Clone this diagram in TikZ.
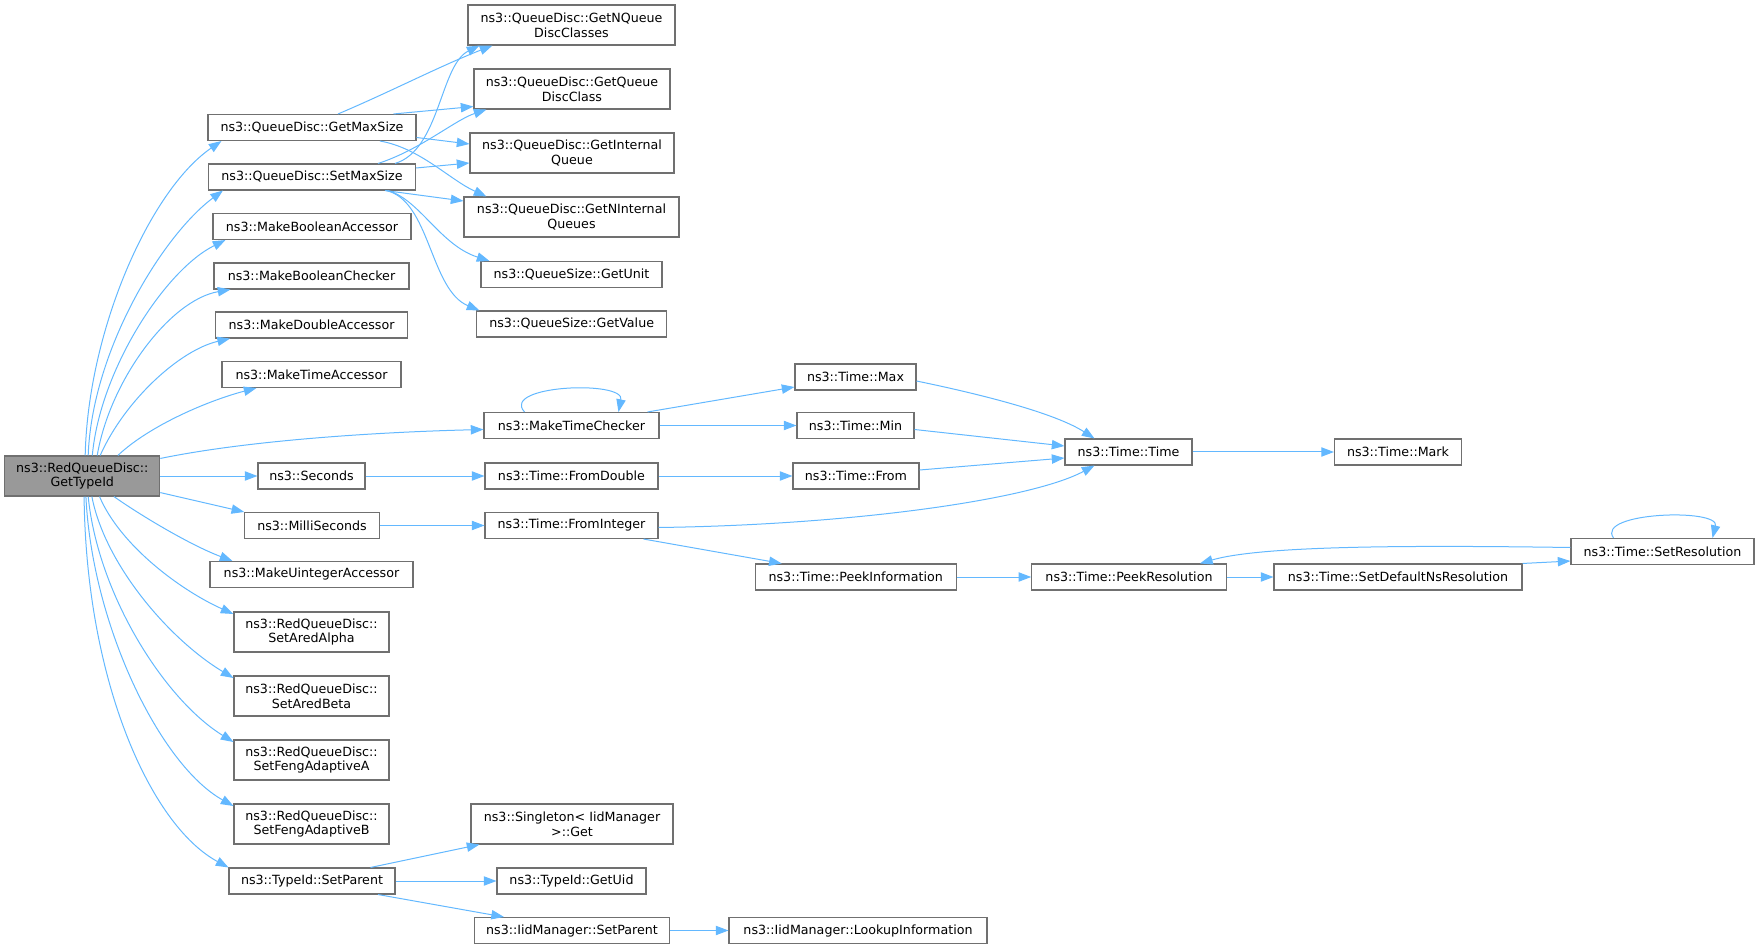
\documentclass[tikz,border=0pt]{standalone}
\usepackage{fontspec}
\setmainfont{DejaVu Sans}
\usetikzlibrary{arrows.meta,calc}
\definecolor{edgeblue}{HTML}{63B8FF}
\definecolor{boxline}{HTML}{707070}
\definecolor{rootfill}{HTML}{999999}

\begin{document}
\begin{tikzpicture}[x=0.75pt,y=-0.75pt]
    \tikzstyle{fn}=[draw=boxline, fill=white, line width=0.8pt, inner sep=0pt,
                    align=center, font=\fontsize{9.5}{11}\selectfont, minimum height=19.5pt]
    \tikzstyle{fntwo}=[fn, minimum height=30pt]
    \tikzstyle{call}=[draw=edgeblue, line width=0.75pt,
                      -{Triangle[length=9.5pt,width=7pt]}]
    \tikzset{wd/.style={minimum width=#1*0.75pt}}
    \useasboundingbox (0,0) rectangle (1760,948);

    % Draw the function boxes
    \node [fntwo,fill=rootfill,wd=155] (root) at (82.3,476) {ns3::RedQueueDisc::\\GetTypeId};

    \node [fn,wd=208] (gms)  at (312,127.5) {ns3::QueueDisc::GetMaxSize};
    \node [fn,wd=207] (sms)  at (312,177)   {ns3::QueueDisc::SetMaxSize};
    \node [fn,wd=198] (mba)  at (312,226.5) {ns3::MakeBooleanAccessor};
    \node [fn,wd=195] (mbc)  at (311.5,276) {ns3::MakeBooleanChecker};
    \node [fn,wd=192] (mda)  at (311.6,325) {ns3::MakeDoubleAccessor};
    \node [fn,wd=179] (mta)  at (311.5,374.5) {ns3::MakeTimeAccessor};
    \node [fn,wd=107] (sec)  at (311.5,476) {ns3::Seconds};
    \node [fn,wd=134.5] (msec) at (312,525.5) {ns3::MilliSeconds};
    \node [fn,wd=203] (mua)  at (311.5,574.5) {ns3::MakeUintegerAccessor};
    \node [fntwo,wd=155] (alpha) at (311.5,632) {ns3::RedQueueDisc::\\SetAredAlpha};
    \node [fntwo,wd=155] (beta)  at (311.5,696) {ns3::RedQueueDisc::\\SetAredBeta};
    \node [fntwo,wd=155] (fenga) at (311.5,760) {ns3::RedQueueDisc::\\SetFengAdaptiveA};
    \node [fntwo,wd=155] (fengb) at (311.5,824) {ns3::RedQueueDisc::\\SetFengAdaptiveB};
    \node [fn,wd=166] (tsp)  at (312,881)   {ns3::TypeId::SetParent};

    \node [fntwo,wd=207] (gnq)  at (571.5,25) {ns3::QueueDisc::GetNQueue\\DiscClasses};
    \node [fntwo,wd=196] (gqdc) at (572,89)   {ns3::QueueDisc::GetQueue\\DiscClass};
    \node [fntwo,wd=204] (giq)  at (572,153)  {ns3::QueueDisc::GetInternal\\Queue};
    \node [fntwo,wd=215] (gniq) at (571.5,217) {ns3::QueueDisc::GetNInternal\\Queues};
    \node [fn,wd=181] (unit)  at (571.5,274.5) {ns3::QueueSize::GetUnit};
    \node [fn,wd=189.5] (value) at (571.7,324) {ns3::QueueSize::GetValue};
    \node [fn,wd=175] (mtc)   at (571.5,425.5) {ns3::MakeTimeChecker};
    \node [fn,wd=173] (fdbl)  at (571.5,476) {ns3::Time::FromDouble};
    \node [fn,wd=173] (fint)  at (571.5,525.5) {ns3::Time::FromInteger};
    \node [fntwo,wd=202] (sget) at (572,824) {ns3::Singleton< IidManager\\>::Get};
    \node [fn,wd=149] (uid)   at (571.5,881) {ns3::TypeId::GetUid};
    \node [fn,wd=194.5] (isp) at (572,930.5) {ns3::IidManager::SetParent};

    \node [fn,wd=121] (tmax)  at (855.5,377) {ns3::Time::Max};
    \node [fn,wd=117] (tmin)  at (855.5,425.5) {ns3::Time::Min};
    \node [fn,wd=126] (tfrom) at (856,476) {ns3::Time::From};
    \node [fn,wd=201] (pinfo) at (855.7,577) {ns3::Time::PeekInformation};
    \node [fn,wd=258] (lookup) at (858,930.5) {ns3::IidManager::LookupInformation};

    \node [fn,wd=127] (ttime)  at (1128.5,452) {ns3::Time::Time};
    \node [fn,wd=194.5] (presol) at (1129,577) {ns3::Time::PeekResolution};
    \node [fn,wd=127] (mark)   at (1398,452) {ns3::Time::Mark};
    \node [fn,wd=248] (sdns)   at (1398,577) {ns3::Time::SetDefaultNsResolution};
    \node [fn,wd=183] (sres)   at (1662.5,551.5) {ns3::Time::SetResolution};

    % Draw calls made by GetTypeId
    \draw[call] (root.82) .. controls (88,330) and (150,190) .. ($(gms.south west)+(14,0)$);
    \draw[call] (root.74) .. controls (92,350) and (163,235) .. ($(sms.south west)+(15,0)$);
    \draw[call] (root.64) .. controls (100,370) and (165,270) .. ($(mba.south west)+(13,0)$);
    \draw[call] (root.54) .. controls (110,380) and (170,300) .. ($(mbc.south west)+(17,0)$);
    \draw[call] (root.49) .. controls (125,400) and (180,350) .. ($(mda.south west)+(15,0)$);
    \draw[call] (root.30) .. controls (150,425) and (210,400) .. ($(mta.south west)+(35,0)$);
    \draw[call] ($(root.north east)+(0,3)$) .. controls (250,440) and (380,432) .. ($(mtc.west)+(0,4)$);
    \draw[call] (root) -- (sec);
    \draw[call] (root.-12) -- (msec.north west);
    \draw[call] (root.-33) .. controls (140,515) and (190,545) .. ($(mua.north west)+(23,0)$);
    \draw[call] (root.-50) .. controls (120,545) and (180,590) .. ($(alpha.west)+(0,-18)$);
    \draw[call] (root.-65) .. controls (105,565) and (170,640) .. ($(beta.west)+(0,-18)$);
    \draw[call] (root.-74) .. controls (98,595) and (165,700) .. ($(fenga.west)+(0,-18)$);
    \draw[call] (root.-80) .. controls (92,625) and (160,765) .. ($(fengb.west)+(0,-18)$);
    \draw[call] (root.-85) .. controls (86,680) and (150,825) .. (tsp.north west);

    % Draw calls of the queue disc size functions
    \draw[call] ($(gms.north)+(26,0)$) .. controls (390,92) and (440,66) .. ($(gnq.south west)+(25,0)$);
    \draw[call] ($(gms.north east)+(-23,0)$) -- ($(gqdc.south west)+(0,-3)$);
    \draw[call] ($(gms.east)+(0,10)$) -- ($(giq.west)+(0,-9)$);
    \draw[call] ($(gms.south)+(68,0)$) .. controls (420,148) and (450,180) .. ($(gniq.north west)+(23,0)$);
    \draw[call] ($(sms.north)+(83,0)$) .. controls (440,150) and (440,65) .. ($(gnq.south west)+(12,0)$);
    \draw[call] ($(sms.north)+(66,0)$) .. controls (420,150) and (455,120) .. ($(gqdc.south west)+(13,0)$);
    \draw[call] ($(sms.east)+(0,-9)$) -- ($(giq.west)+(0,10)$);
    \draw[call] ($(sms.south)+(73,0)$) -- ($(gniq.west)+(0,-16)$);
    \draw[call] ($(sms.south)+(76,0)$) .. controls (420,200) and (440,245) .. ($(unit.north west)+(9,0)$);
    \draw[call] ($(sms.south)+(74,0)$) .. controls (430,200) and (430,290) .. ($(value.north west)+(3,0)$);

    % Draw the time calls
    \draw[call] ($(mtc.north)+(-47,0)$) .. controls (500,385) and (625,380) .. ($(mtc.north)+(47,0)$);
    \draw[call] ($(mtc.north east)+(-12,0)$) -- ($(tmax.west)+(0,10)$);
    \draw[call] (mtc) -- (tmin);
    \draw[call] (sec) -- (fdbl);
    \draw[call] (msec) -- (fint);
    \draw[call] (fdbl) -- (tfrom);
    \draw[call] ($(fint.east)+(0,2)$) .. controls (850,525) and (1030,500) .. ($(ttime.south)+(-34,0)$);
    \draw[call] ($(fint.south east)+(-15,0)$) -- ($(pinfo.north)+(-74,0)$);
    \draw[call] ($(tmax.east)+(0,4)$) .. controls (960,390) and (1050,410) .. ($(ttime.north)+(-34,0)$);
    \draw[call] ($(tmin.east)+(0,4)$) -- ($(ttime.west)+(0,-6)$);
    \draw[call] ($(tfrom.east)+(0,-6)$) -- ($(ttime.west)+(0,6)$);
    \draw[call] (ttime) -- (mark);
    \draw[call] (pinfo) -- (presol);
    \draw[call] (presol) -- (sdns);
    \draw[call] (sdns.north east) -- ($(sres.south west)+(0,-4)$);
    \draw[call] ($(sres.west)+(0,-4)$) .. controls (1400,545) and (1260,546) .. ($(presol.north)+(71,0)$);
    \draw[call] ($(sres.north)+(-49,0)$) .. controls (1595,512) and (1720,508) .. ($(sres.north)+(50,0)$);

    % Draw calls of SetParent
    \draw[call] ($(tsp.north east)+(-25,0)$) -- ($(sget.south west)+(9,0)$);
    \draw[call] (tsp) -- (uid);
    \draw[call] ($(tsp.south)+(66,0)$) -- ($(isp.north)+(-68,0)$);
    \draw[call] (isp) -- (lookup);
\end{tikzpicture}
\end{document}
